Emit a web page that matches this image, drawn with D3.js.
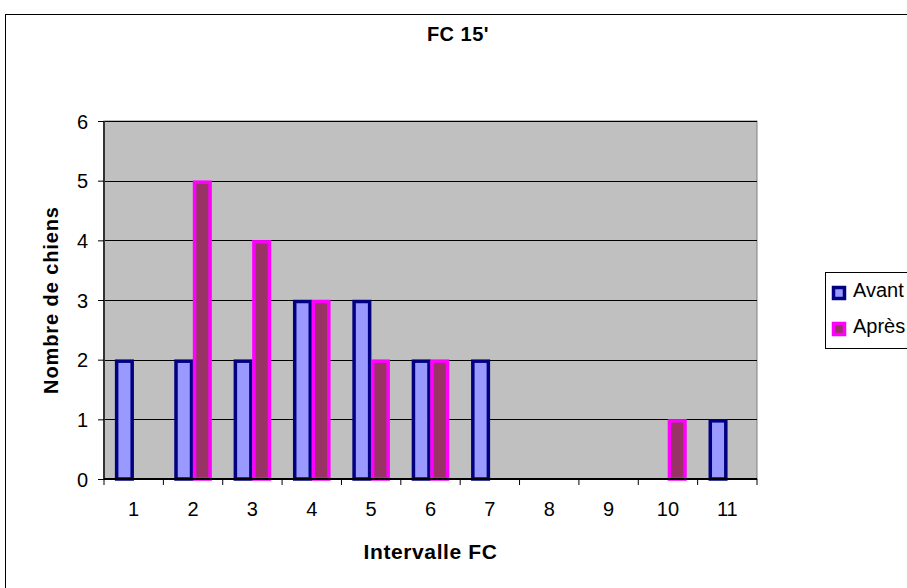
<!DOCTYPE html>
<html><head><meta charset="utf-8">
<script src="https://cdn.jsdelivr.net/npm/d3@7"></script>
<style>body{margin:0;background:#fff}svg{display:block;font-family:"Liberation Sans",Arial,sans-serif}</style>
</head><body><svg id="c" width="907" height="588"></svg>
<script>
const categories = ["1","2","3","4","5","6","7","8","9","10","11"];
const avant = [2,2,2,3,3,2,2,0,0,0,1];
const apres = [0,5,4,3,2,2,0,0,0,1,0];
const yTicks = [0,1,2,3,4,5,6];
const seriesNames = ["Avant","Après"];

const svg = d3.select("#c");
const m = {l:104, t:121, r:757, b:479};
svg.append("rect").attr("x",5.5).attr("y",14.5).attr("width",1200).attr("height",1200)
  .attr("fill","#fff").attr("stroke","#000").attr("stroke-width",1);

const x = d3.scaleBand().domain(categories).range([m.l,m.r]).paddingInner(0).paddingOuter(0);
const y = d3.scaleLinear().domain([0,6]).range([m.b,m.t]);
const inner = d3.scaleBand().domain(seriesNames).range([0,x.bandwidth()]).paddingInner(0).paddingOuter(0.6);

svg.append("rect").attr("x",m.l).attr("y",m.t).attr("width",m.r-m.l).attr("height",m.b-m.t)
  .attr("fill","#C0C0C0").attr("stroke","#808080").attr("stroke-width",1);

// gridlines
svg.append("g").selectAll("line").data(yTicks.filter(d=>d>0)).join("line")
  .attr("x1",m.l).attr("x2",m.r).attr("y1",d=>Math.round(y(d))+0.5).attr("y2",d=>Math.round(y(d))+0.5)
  .attr("stroke","#000").attr("stroke-width",1);

const colors = {Avant:{fill:"#9999FF",stroke:"#000080"}, "Après":{fill:"#993366",stroke:"#FF00FF"}};
const data = [avant, apres];
seriesNames.forEach((s,i)=>{
  const bw = inner.bandwidth();
  svg.append("g").selectAll("rect").data(categories.map((c,j)=>({c,v:data[i][j]})).filter(d=>d.v>0)).join("rect")
    .attr("x",d=>x(d.c)+inner(s)+1.5).attr("y",d=>y(d.v)+1.5)
    .attr("width",bw-3).attr("height",d=>y(0)-y(d.v)-1.5)
    .attr("fill",colors[s].fill).attr("stroke",colors[s].stroke).attr("stroke-width",3.5);
});

const tf = "Liberation Sans, Arial, sans-serif";
// y axis
const ya = svg.append("g").attr("transform",`translate(${m.l},0)`)
  .call(d3.axisLeft(y).tickValues(yTicks).tickSize(6).tickPadding(10).tickFormat(d3.format("d")));
ya.select(".domain").attr("stroke","#333").attr("stroke-width",2).attr("d",`M0,${m.t}V${m.b}`);
ya.selectAll(".tick line").attr("stroke","#000");
ya.selectAll("text").attr("font-size",20).attr("fill","#000").attr("font-family",tf).attr("dy","0.36em");

// x axis
const xa = svg.append("g").attr("transform",`translate(0,${m.b})`)
  .call(d3.axisBottom(x).tickSize(0).tickPadding(0));
xa.select(".domain").attr("stroke","#000").attr("stroke-width",2).attr("d",`M${m.l},0H${m.r}`);
xa.selectAll("text").attr("font-size",20).attr("fill","#000").attr("font-family",tf).attr("y",37).attr("dy",0);
svg.append("g").selectAll("line").data(d3.range(categories.length+1)).join("line")
  .attr("x1",i=>m.l+i*x.step()).attr("x2",i=>m.l+i*x.step()).attr("y1",m.b).attr("y2",m.b+6)
  .attr("stroke","#000").attr("stroke-width",1);

// titles
svg.append("text").attr("x",458).attr("y",41).attr("text-anchor","middle")
  .attr("font-weight","bold").attr("font-size",20).attr("letter-spacing",0.5).text("FC 15'");
svg.append("text").attr("x",(m.l+m.r)/2).attr("y",559).attr("text-anchor","middle")
  .attr("font-weight","bold").attr("font-size",21).attr("letter-spacing",0.6).text("Intervalle FC");
svg.append("text").attr("transform",`translate(58,${(m.t+m.b)/2}) rotate(-90)`).attr("text-anchor","middle")
  .attr("font-weight","bold").attr("font-size",20).attr("letter-spacing",0.9).text("Nombre de chiens");

// legend
const lg = svg.append("g");
lg.append("rect").attr("x",825.5).attr("y",272.5).attr("width",200).attr("height",76)
  .attr("fill","#fff").attr("stroke","#000").attr("stroke-width",1);
seriesNames.forEach((s,i)=>{
  const cy = 293 + i*36;
  lg.append("rect").attr("x",833.5).attr("y",cy-5.5).attr("width",11).attr("height",11)
    .attr("fill",colors[s].fill).attr("stroke",colors[s].stroke).attr("stroke-width",3.5);
  lg.append("text").attr("x",853).attr("y",cy+3.7).attr("font-size",20).text(s);
});
</script></body></html>
